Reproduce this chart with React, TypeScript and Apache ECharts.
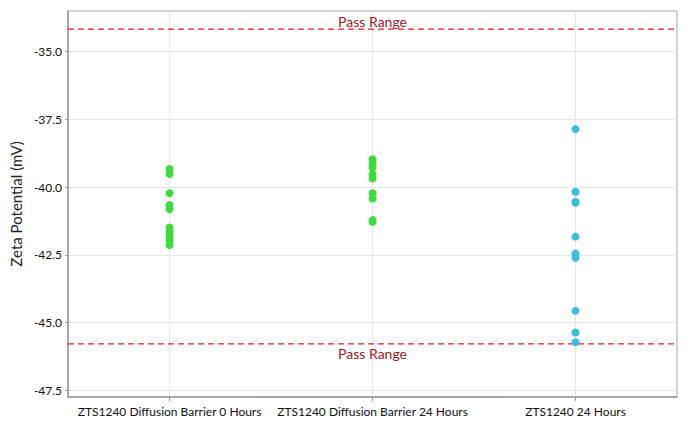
import { useEffect, useRef } from "react";
import * as echarts from "echarts";

// categories along x
const categories = [
  "ZTS1240 Diffusion Barrier 0 Hours",
  "ZTS1240 Diffusion Barrier 24 Hours",
  "ZTS1240 24 Hours",
];

// zeta potential readings (mV)
const barrier0h = [-39.33, -39.52, -40.23, -40.66, -40.82, -41.49, -41.65, -41.83, -41.98, -42.14];
const barrier24h = [-38.97, -39.12, -39.28, -39.53, -39.68, -40.23, -40.42, -41.22, -41.28];
const plain24h = [-37.86, -40.17, -40.54, -40.58, -41.83, -42.45, -42.61, -44.57, -45.37, -45.73];

const yTicks = [-47.5, -45.0, -42.5, -40.0, -37.5, -35.0];
const passLimits = [-34.17, -45.79];

const GREEN = "#3ddc3d";
const BLUE = "#3bbde1";
const PASS_LINE = "#e41c1c";
const FONT = "Lato, 'Noto Sans', sans-serif";

export default function App() {
  const ref = useRef<HTMLDivElement>(null);

  useEffect(() => {
    if (!ref.current) return;
    const chart = echarts.init(ref.current, null, { renderer: "svg" });

    // x position = category index, so grid lines can sit on the category centres
    const catIdx = categories.map((_, i) => i);
    const green = [
      ...barrier0h.map((v) => [0, v]),
      ...barrier24h.map((v) => [1, v]),
    ];
    const blue = plain24h.map((v) => [2, v]);

    chart.setOption({
      animation: false,
      textStyle: { fontFamily: FONT },
      grid: {
        left: 58,
        right: 13,
        top: 11,
        bottom: 26,
        show: true,
        borderColor: "#a8a8a8",
        borderWidth: 1,
      },
      xAxis: {
        type: "value",
        min: -0.5,
        max: 2.5,
        axisLine: { show: true, onZero: false, lineStyle: { color: "#999", width: 1.5 } },
        axisTick: { show: true, length: 4, customValues: catIdx, lineStyle: { color: "#999" } },
        axisLabel: {
          color: "#111",
          fontSize: 12,
          margin: 8,
          fontFamily: FONT,
          customValues: catIdx,
          formatter: (v: number) => categories[Math.round(v)] ?? "",
        },
        splitLine: { show: true, lineStyle: { color: "#e6e6e6" } },
      },
      yAxis: {
        type: "value",
        min: -47.75,
        max: -33.5,
        name: "Zeta Potential (mV)",
        nameLocation: "middle",
        nameGap: 43,
        nameTextStyle: { color: "#222", fontSize: 15, fontFamily: FONT },
        axisLine: { show: true, onZero: false, lineStyle: { color: "#999", width: 1.5 } },
        axisTick: { show: true, length: 3, customValues: yTicks, lineStyle: { color: "#999" } },
        axisLabel: {
          color: "#111",
          fontSize: 12,
          margin: 6,
          fontFamily: FONT,
          customValues: yTicks,
          formatter: (v: number) => v.toFixed(1),
        },
        splitLine: { show: true, lineStyle: { color: "#e6e6e6" } },
      },
      series: [
        // pass range limits drawn across the full width
        ...passLimits.map((v) => ({
          type: "line",
          silent: true,
          symbol: "none",
          z: 1,
          lineStyle: { color: PASS_LINE, type: [6, 4], width: 1.2, opacity: 1 },
          data: [
            [-0.5, v],
            [2.5, v],
          ],
        })),
        // "Pass Range" captions, centred over / under each limit
        {
          type: "scatter",
          silent: true,
          symbol: "circle",
          symbolSize: 0,
          z: 2,
          itemStyle: { color: "#fff", opacity: 1 },
          label: {
            show: true,
            color: "#a01c1c",
            fontSize: 14,
            fontFamily: FONT,
            formatter: "Pass Range",
          },
          data: passLimits.map((v, i) => ({
            value: [1, v],
            label: { position: i === 0 ? "top" : "bottom", distance: i === 0 ? 1 : 3 },
          })),
        },
        {
          type: "scatter",
          symbol: "circle",
          symbolSize: 8,
          z: 3,
          itemStyle: { color: GREEN, opacity: 1 },
          data: green,
        },
        {
          type: "scatter",
          symbol: "circle",
          symbolSize: 8,
          z: 3,
          itemStyle: { color: BLUE, opacity: 1 },
          data: blue,
        },
      ],
    });

    return () => chart.dispose();
  }, []);

  return (
    <div
      ref={ref}
      style={{ position: "fixed", left: 0, top: 0, width: 690, height: 423, background: "#fff" }}
    />
  );
}
